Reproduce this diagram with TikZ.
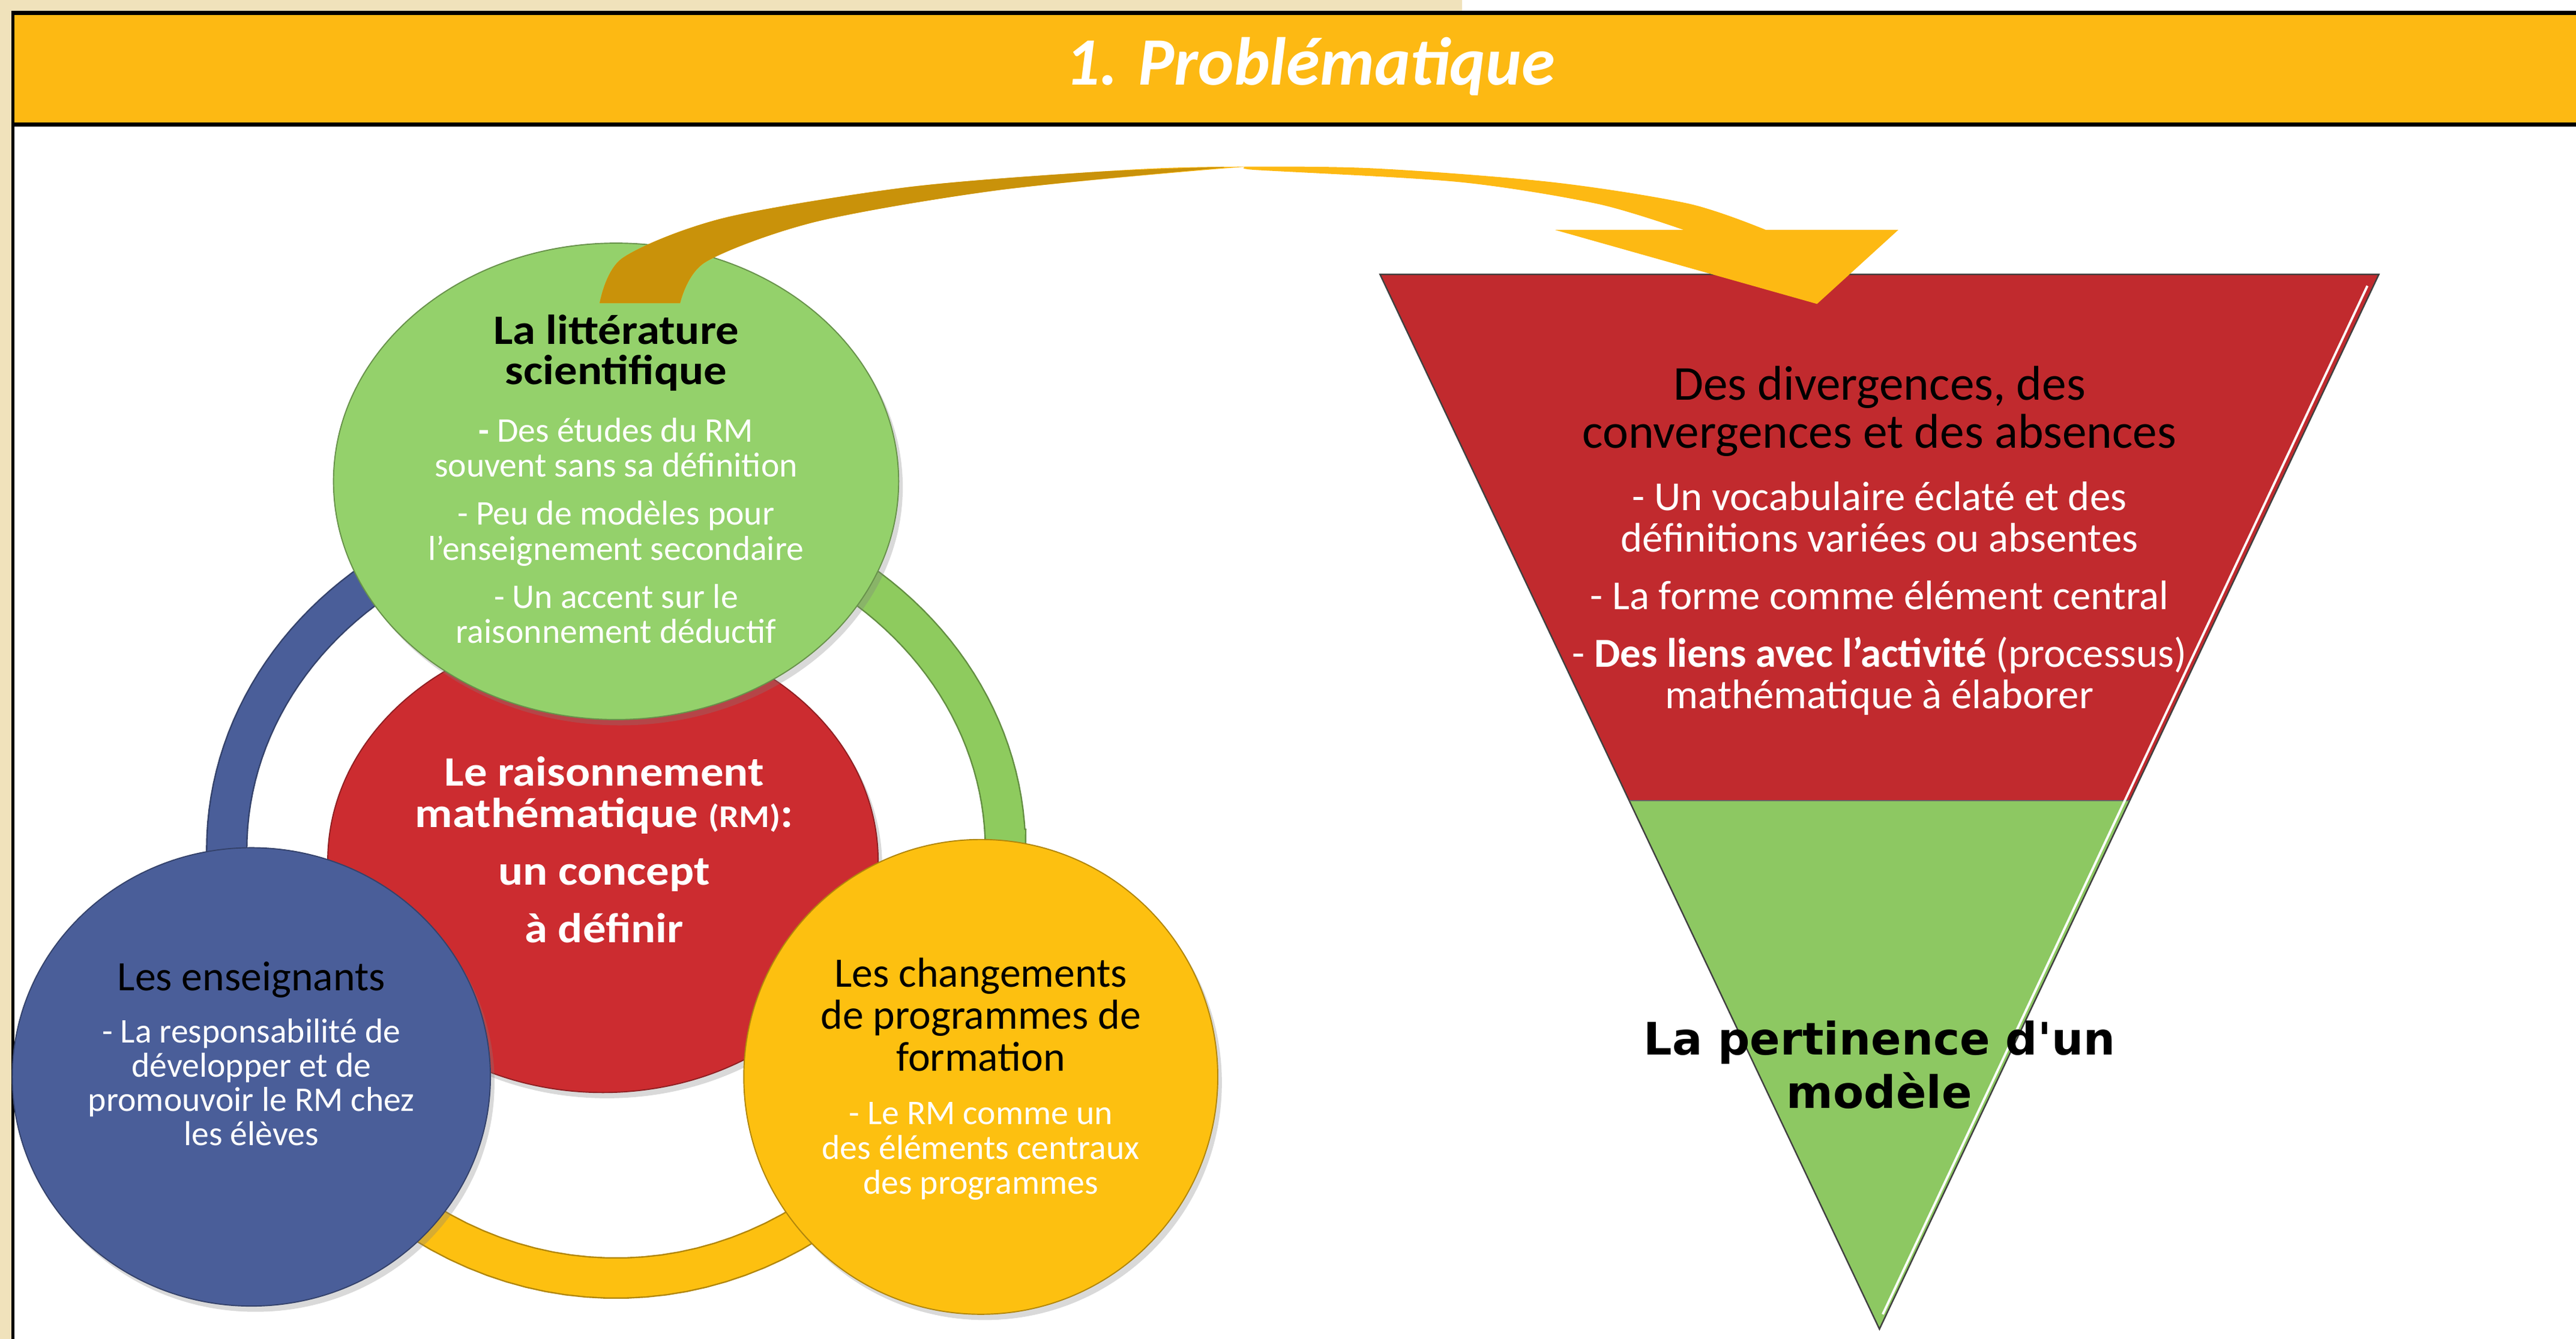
\documentclass[tikz,border=0pt]{standalone}
\usepackage{fontspec}
\setmainfont{Carlito}
\newfontfamily\grasfont[FakeStretch=1.1]{Carlito}
\newfontfamily\dejavu{DejaVu Sans}
\usetikzlibrary{shapes.geometric,shadows}
\setlength\lineskiplimit{-20pt}

\definecolor{beige}{HTML}{F0E2BB}
\definecolor{dore}{HTML}{FDB913}
\definecolor{doreF}{HTML}{C9920A}
\definecolor{vertC}{HTML}{94D16B}
\definecolor{vertA}{HTML}{8ECB5E}
\definecolor{rougeC}{HTML}{CC2C30}
\definecolor{bleuC}{HTML}{4A5E99}
\definecolor{jauneC}{HTML}{FDC010}
\definecolor{rougeT}{HTML}{C12A2E}
\definecolor{vertT}{HTML}{8DC862}

\tikzset{
  bulle/.style={ellipse, inner sep=0pt, fill=#1, draw=#1!70!black, line width=.4pt,
    drop shadow={opacity=.3, shadow xshift=.5mm, shadow yshift=-.7mm}},
  arc/.style={line width=13.4pt, #1},
  arcbord/.style={line width=14.4pt, #1!70!black},
  txt/.style={align=center, inner sep=0pt, anchor=base},
  gras/.style={txt, font=\grasfont\bfseries\fontsize{14.5}{14}\selectfont},
  tete/.style={txt, font=\fontsize{14.5}{14.5}\selectfont},
  pts/.style={txt, text=white, font=\fontsize{12}{12}\selectfont}
}

\begin{document}
\begin{tikzpicture}[x=0.2mm, y=-0.2mm]
\useasboundingbox (0,0) rectangle (1568,815);
% fond et bandeau
\fill[beige] (0,0) rectangle (890,6.5);
\fill[beige] (0,0) rectangle (7,815);
\fill[black] (7,6.5) rectangle (1568,77);
\fill[dore] (7,9) rectangle (1568,74.5);
\fill[black] (7,6.5) rectangle (8.8,815);
\node[txt, text=white, font=\bfseries\itshape\fontsize{23.5}{28}\selectfont] (titre) at (797.5,51.8) {1. Problématique};

% le cycle : demi-ellipse haute (ry 208) et basse (ry 261)
\foreach \s in {arcbord, arc} {
  \draw[\s=bleuC] plot[domain=205:180, samples=20] ({375+237*cos(\x)}, {517-261*sin(\x)})
    -- plot[domain=180:120, samples=30] ({375+237*cos(\x)}, {517-208*sin(\x)});
  \draw[\s=vertA] plot[domain=60:0, samples=30] ({375+237*cos(\x)}, {517-208*sin(\x)})
    -- plot[domain=360:335, samples=20] ({375+237*cos(\x)}, {517-261*sin(\x)});
  \draw[\s=jauneC] plot[domain=215:325, samples=40] ({375+237*cos(\x)}, {517-261*sin(\x)});
}

\node[bulle=rougeC, minimum width=67mm, minimum height=56.4mm] (c-rm) at (367,524) {};
\node[bulle=vertC, minimum width=68.8mm, minimum height=58mm] (c-litt) at (375,293) {};
\node[bulle=bleuC, minimum width=58.2mm, minimum height=55.8mm] (c-ens) at (153,655.5) {};
\node[bulle=jauneC, minimum width=57.7mm, minimum height=57.8mm] (c-prog) at (597,655.5) {};

\node[gras] (litt) at (375,234.1) {La littérature\\scientifique};
\node[pts, font=\fontsize{12}{12.1}\selectfont] (litt-pts) at (375,391.5)
  {{\bfseries -} Des études du RM\\souvent sans sa définition\\[4.6pt]- Peu de modèles pour\\l’enseignement secondaire\\[4.6pt]- Un accent sur le\\raisonnement déductif};
\node[gras, text=white, font=\grasfont\bfseries\fontsize{14.5}{14.3}\selectfont] (rm) at (367.8,573.6)
  {Le raisonnement\\mathématique {\fontsize{11}{11}\selectfont(RM)}:\\[5.6pt]un concept\\[5.6pt]à définir};
\node[tete] (ens) at (153,603) {Les enseignants};
\node[pts, font=\fontsize{12}{11.9}\selectfont] (ens-pts) at (153,697.4)
  {- La responsabilité de\\développer et de\\promouvoir le RM chez\\les élèves};
\node[tete] (prog) at (597,651.8) {Les changements\\de programmes de\\formation};
\node[pts] (prog-pts) at (597,726.7) {- Le RM comme un\\des éléments centraux\\des programmes};

% entonnoir
\coordinate (t1) at (840,167);
\coordinate (t2) at (1448,167);
\coordinate (t3) at (1144,809);
\coordinate (m1) at (992,487.5);
\coordinate (m2) at (1296,487.5);
\fill[rougeT] (t1) -- (t2) -- (m2) -- (m1) -- cycle;
\fill[vertT] (m1) -- (m2) -- (t3) -- cycle;
\draw[black!75, line width=.5pt] (t1) -- (t2) -- (t3) -- cycle;
\draw[black!60, line width=.4pt] (m1) -- (m2);
\draw[white, line width=.8pt] (1441,174) -- (1146,800);

\node[txt, font=\fontsize{16.9}{16.6}\selectfont] (div) at (1144,272.8) {Des divergences, des\\convergences et des absences};
\node[txt, text=white, font=\fontsize{14.3}{14.4}\selectfont] (div-pts) at (1144,431.3)
  {- Un vocabulaire éclaté et des\\définitions variées ou absentes\\[5.5pt]- La forme comme élément central\\[5.5pt]- \textbf{Des liens avec l’activité} (processus)\\mathématique à élaborer};
\node[txt, font=\dejavu\bfseries\fontsize{15.5}{18.5}\selectfont] (pert) at (1144,674.5) {La pertinence d'un\\modèle};

% fleche courbe
\fill[dore] plot[smooth] coordinates {(365,184.5) (379,157) (440.6,132.7) (552,114) (664,104.8) (731.5,101.7) (832,102.3) (944,110.8) (1028,124) (1075,140)}
  -- (1155.4,140) -- (1106,185) -- (946.7,140) -- (1025,140)
  -- plot[smooth] coordinates {(1025,140) (972,124) (888,110.8) (765,103.5) (748,102.3) (608,115.7) (496.5,135) (429.5,159.5) (414,184.5)} -- cycle;
\fill[doreF] plot[smooth] coordinates {(365,184.5) (379,157) (440.6,132.7) (552,114) (664,104.8) (745,101.6)}
  -- plot[smooth] coordinates {(745,102) (608,115.7) (496.5,135) (429.5,159.5) (414,184.5)} -- cycle;
\end{tikzpicture}
\end{document}
